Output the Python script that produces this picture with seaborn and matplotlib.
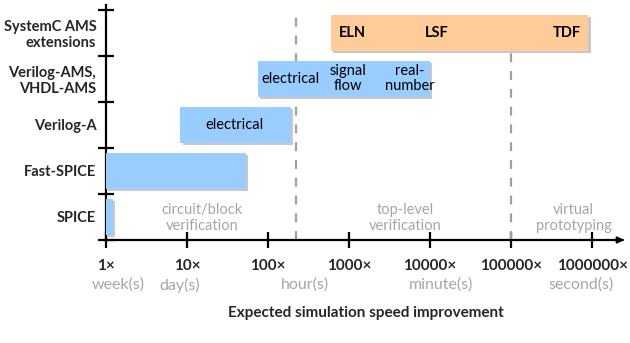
import matplotlib
matplotlib.use("Agg")
import matplotlib.pyplot as plt
import matplotlib.patheffects as pe
import matplotlib.transforms as mtransforms
import seaborn as sns
import pandas as pd

sns.set_theme(style="white")
plt.rcParams['font.family'] = ['Lato', 'DejaVu Sans']

# ---- data ----
categories = ["SPICE", "Fast-SPICE", "Verilog-A", "Verilog-AMS,\nVHDL-AMS", "SystemC AMS\nextensions"]
bar_start = [1, 1, 8.3, 75, 600]
bar_end = [1.22, 53, 194, 10000, 900000]
bar_kind = ["blue", "blue", "blue", "blue", "orange"]

xtick_values = [1, 10, 100, 1000, 10000, 100000, 1000000]
xtick_labels = ["1×", "10×", "100×", "1000×", "10000×", "100000×", "1000000×"]
time_labels = ["week(s)", "day(s)", "hour(s)", "minute(s)", "second(s)"]
time_label_x = [1.41, 8.2, 287, 13700, 730000]

region_bounds = [220, 100000]
region_labels = ["circuit/block\nverification", "top-level\nverification", "virtual\nprototyping"]
region_label_x = [15.3, 4900, 590000]

# text inside bars: (category index, x, text, bold)
bar_texts = [
    (2, 39, "electrical", False),
    (3, 187, "electrical", False),
    (3, 970, "signal\nflow", False),
    (3, 5650, "real-\nnumber", False),
    (4, 1090, "ELN", True),
    (4, 12200, "LSF", True),
    (4, 490000, "TDF", True),
]

colors = {"blue": "#99CCFF", "orange": "#FFCC99"}

df = pd.DataFrame({"cat": categories, "start": bar_start, "end": bar_end, "kind": bar_kind})
df["pos"] = range(len(df))

fig = plt.figure(figsize=(6.3, 3.43), dpi=100)
ax = fig.add_axes([106 / 630, 1 - 240 / 343, 521 / 630, 235 / 343])
ax.set_xscale("log")

shadow = [pe.SimplePatchShadow(offset=(1.5, -1.5), shadow_rgbFace="#C8C8C8", alpha=1.0), pe.Normal()]
for _, r in df.iterrows():
    ax.barh(r["pos"], r["end"] - r["start"], left=r["start"], height=0.78,
            color=colors[r["kind"]], edgecolor="none", path_effects=shadow, zorder=3)

ax.set_xlim(1, 10 ** 6.43)
ax.set_ylim(-0.5, 4.6)

# dashed region boundaries
for b in region_bounds:
    ax.plot([b, b], [-0.5, 4.5], ls=(0, (4, 4)), color="#A0A0A0", lw=1.6, zorder=1)

for x, t in zip(region_label_x, region_labels):
    ax.text(x, -0.02, t, ha="center", va="center", color="#A6A6A6", fontsize=10.5, linespacing=1.15)

for i, x, t, bold in bar_texts:
    ax.text(x, i, t, ha="center", va="center", color="black", fontsize=10.5,
            fontweight="bold" if bold else "normal", linespacing=1.1, zorder=5)

# spines / axes
for s in ["top", "right"]:
    ax.spines[s].set_visible(False)
for s in ["left", "bottom"]:
    ax.spines[s].set_color("black")
    ax.spines[s].set_linewidth(1.6)
ax.spines["bottom"].set_bounds(1, 10 ** 6.36)
ax.annotate("", xy=(1.0, 0), xycoords="axes fraction", xytext=(0.985, 0),
            arrowprops=dict(arrowstyle="-|>", color="black", lw=1.6, mutation_scale=9))

ax.set_yticks([-0.5, 0.5, 1.5, 2.5, 3.5, 4.5])
ax.set_yticklabels([])
ax.set_yticks(range(len(categories)), minor=True)
ax.set_yticklabels(categories, minor=True, fontweight="bold", fontsize=10.5, linespacing=1.15)
ax.tick_params(axis="y", which="major", direction="inout", length=11, width=1.6, color="black", left=True)
ax.tick_params(axis="y", which="minor", length=0, pad=7)

ax.set_xticks(xtick_values)
ax.set_xticklabels(xtick_labels, fontweight="bold", fontsize=11)
ax.xaxis.set_minor_locator(matplotlib.ticker.NullLocator())
ax.tick_params(axis="x", which="major", direction="inout", length=11, width=1.6, color="black",
               bottom=True, pad=8)

time_tr = mtransforms.blended_transform_factory(ax.transData, fig.transFigure)
for x, t in zip(time_label_x, time_labels):
    ax.text(x, 1 - 285 / 343, t, transform=time_tr, ha="center", va="center",
            color="#A6A6A6", fontsize=11.5)

fig.text(366 / 630, 1 - 313 / 343, "Expected simulation speed improvement",
         ha="center", va="center", fontsize=11, fontweight="bold")

ax.grid(False)
fig.savefig("out.png", dpi=100)
